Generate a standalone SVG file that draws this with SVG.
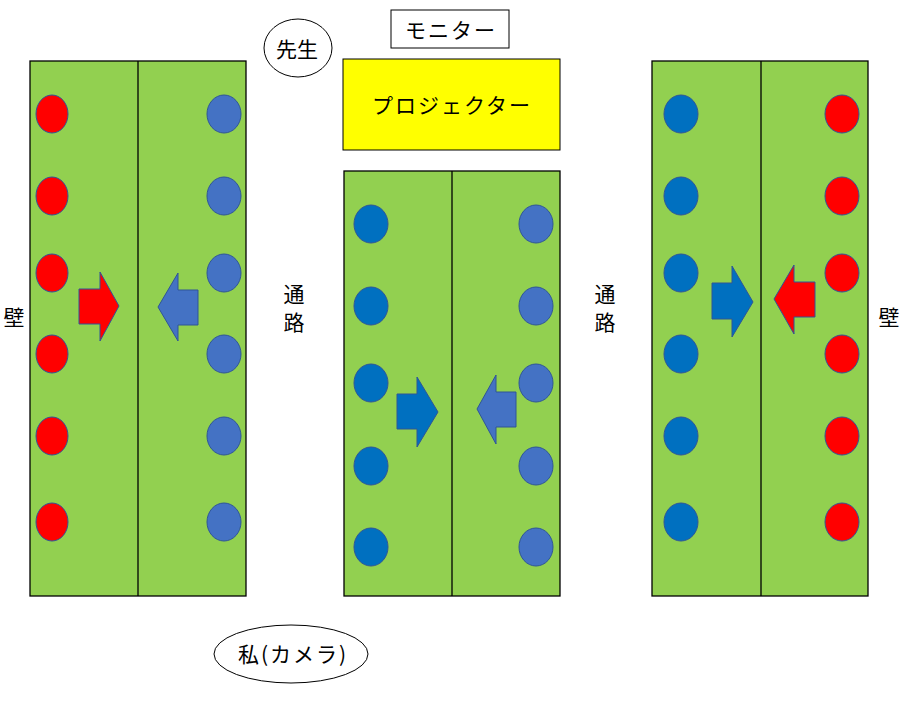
<svg xmlns="http://www.w3.org/2000/svg" width="905" height="720" viewBox="0 0 905 720">
<style>
text{font-family:"Noto Sans CJK JP","Noto Sans",sans-serif;font-size:21px;fill:#000;text-anchor:middle;dominant-baseline:central}
.sp{letter-spacing:2px}
.desk{fill:#92D050;stroke:#000;stroke-width:1.3}
.div{stroke:#000;stroke-width:1.3}
.red{fill:#FF0000;stroke:#2F5597;stroke-width:1}
.b1{fill:#0070C0;stroke:#2F5597;stroke-width:1}
.b2{fill:#4472C4;stroke:#2F5597;stroke-width:1}
</style>
<rect width="905" height="720" fill="#fff"/>
<g id="desk-left">
<rect class="desk" x="30" y="61" width="216" height="535"/>
<line class="div" x1="138" y1="61" x2="138" y2="596"/>
<ellipse class="red" cx="52" cy="114" rx="16" ry="19"/>
<ellipse class="red" cx="52" cy="196" rx="16" ry="19"/>
<ellipse class="red" cx="52" cy="273" rx="16" ry="19"/>
<ellipse class="red" cx="52" cy="354" rx="16" ry="19"/>
<ellipse class="red" cx="52" cy="436" rx="16" ry="19"/>
<ellipse class="red" cx="52" cy="522" rx="16" ry="19"/>
<ellipse class="b2" cx="224" cy="114" rx="17" ry="19"/>
<ellipse class="b2" cx="224" cy="196" rx="17" ry="19"/>
<ellipse class="b2" cx="224" cy="273" rx="17" ry="19"/>
<ellipse class="b2" cx="224" cy="354" rx="17" ry="19"/>
<ellipse class="b2" cx="224" cy="436" rx="17" ry="19"/>
<ellipse class="b2" cx="224" cy="522" rx="17" ry="19"/>
<polygon class="red" points="79,289 100,289 100,272 119,306 100,341 100,324 79,324"/>
<polygon class="b2" points="198,290 178,290 178,273 158,307 178,341 178,325 198,325"/>
</g>
<g id="desk-middle">
<rect class="desk" x="344" y="171" width="216" height="425"/>
<line class="div" x1="452" y1="171" x2="452" y2="596"/>
<ellipse class="b1" cx="371" cy="224" rx="17" ry="19"/>
<ellipse class="b1" cx="371" cy="306" rx="17" ry="19"/>
<ellipse class="b1" cx="371" cy="383" rx="17" ry="19"/>
<ellipse class="b1" cx="371" cy="466" rx="17" ry="19"/>
<ellipse class="b1" cx="371" cy="547" rx="17" ry="19"/>
<ellipse class="b2" cx="536" cy="224" rx="17" ry="19"/>
<ellipse class="b2" cx="536" cy="306" rx="17" ry="19"/>
<ellipse class="b2" cx="536" cy="383" rx="17" ry="19"/>
<ellipse class="b2" cx="536" cy="466" rx="17" ry="19"/>
<ellipse class="b2" cx="536" cy="547" rx="17" ry="19"/>
<polygon class="b1" points="397,394 417,394 417,377 438,412 417,447 417,429 397,429"/>
<polygon class="b2" points="516,392 496,392 496,375 477,409 496,444 496,427 516,427"/>
</g>
<g id="desk-right">
<rect class="desk" x="652" y="61" width="216" height="535"/>
<line class="div" x1="761" y1="61" x2="761" y2="596"/>
<ellipse class="b1" cx="681" cy="114" rx="17" ry="19"/>
<ellipse class="b1" cx="681" cy="196" rx="17" ry="19"/>
<ellipse class="b1" cx="681" cy="273" rx="17" ry="19"/>
<ellipse class="b1" cx="681" cy="354" rx="17" ry="19"/>
<ellipse class="b1" cx="681" cy="436" rx="17" ry="19"/>
<ellipse class="b1" cx="681" cy="522" rx="17" ry="19"/>
<ellipse class="red" cx="842" cy="114" rx="17" ry="19"/>
<ellipse class="red" cx="842" cy="196" rx="17" ry="19"/>
<ellipse class="red" cx="842" cy="273" rx="17" ry="19"/>
<ellipse class="red" cx="842" cy="354" rx="17" ry="19"/>
<ellipse class="red" cx="842" cy="436" rx="17" ry="19"/>
<ellipse class="red" cx="842" cy="522" rx="17" ry="19"/>
<polygon class="b1" points="712,283 732,283 732,266 753,302 732,337 732,319 712,319"/>
<polygon class="red" points="815,282 794,282 794,265 774,299 794,334 794,317 815,317"/>
</g>
<g id="monitor">
<rect x="391" y="10" width="118" height="38" fill="#fff" stroke="#000" stroke-width="1"/>
<text class="sp" x="451" y="29">モニター</text>
</g>
<g id="projector">
<rect x="343" y="59" width="217" height="91" fill="#FFFF00" stroke="#000" stroke-width="1"/>
<text class="sp" x="452" y="104">プロジェクター</text>
</g>
<g id="teacher">
<ellipse cx="298" cy="48" rx="34" ry="29" fill="#fff" stroke="#000" stroke-width="1"/>
<text x="297" y="48">先生</text>
</g>
<g id="camera">
<ellipse cx="291" cy="654" rx="77" ry="29" fill="#fff" stroke="#000" stroke-width="1"/>
<text class="sp" x="293" y="653">私(カメラ)</text>
</g>
<g id="labels">
<text x="14" y="316">壁</text>
<text x="889" y="316">壁</text>
<text x="294" y="293">通</text>
<text x="294" y="321">路</text>
<text x="605" y="293">通</text>
<text x="605" y="321">路</text>
</g>
</svg>
